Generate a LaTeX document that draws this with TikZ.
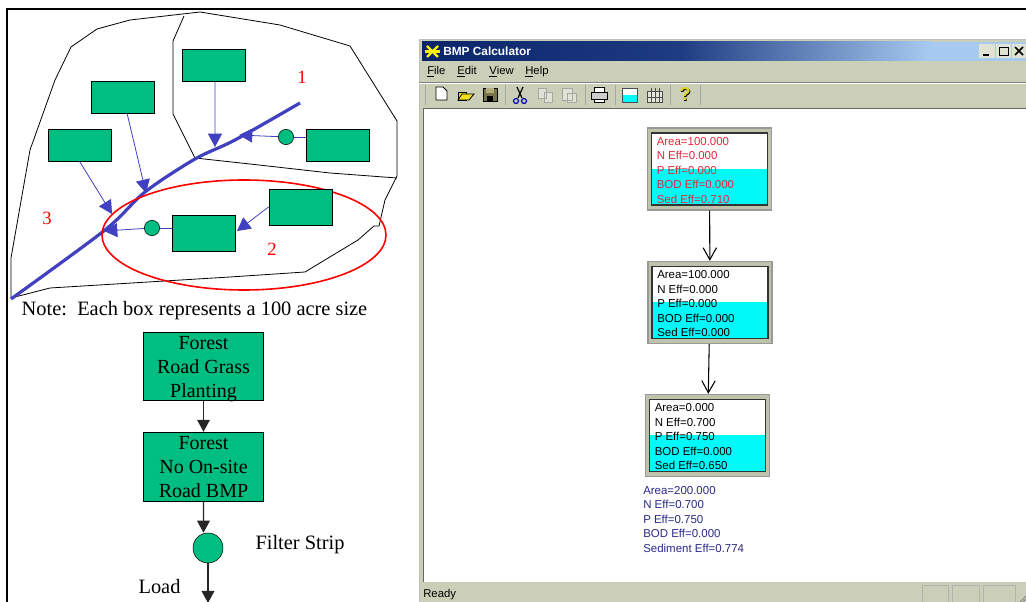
\documentclass[tikz,border=0pt]{standalone}
\usepackage{fontspec}
\setmainfont{Liberation Serif}
\newfontfamily\winfont{Liberation Sans}
\usetikzlibrary{arrows.meta,calc}
\definecolor{boxgreen}{RGB}{0,190,128}
\definecolor{riverblue}{RGB}{64,64,192}
\definecolor{wingray}{RGB}{203,207,183}
\definecolor{framegray}{RGB}{190,195,172}
\definecolor{navytext}{RGB}{42,42,135}
\definecolor{titledark}{RGB}{10,36,106}
\definecolor{titlemid}{RGB}{30,60,130}
\definecolor{titlelight}{RGB}{166,202,240}
\definecolor{purecyan}{RGB}{0,250,250}
\definecolor{boxred}{RGB}{228,36,60}
\tikzset{
  greenbox/.style={draw=black,fill=boxgreen,inner sep=0pt,minimum width=47.5pt,minimum height=24pt},
  tallbox/.style={greenbox,minimum height=27pt},
  flowbox/.style={draw=black,line width=0.8pt,fill=boxgreen,inner sep=0pt,align=center,minimum width=90.5pt,
    font=\fontsize{15}{18}\selectfont},
  greendot/.style={circle,draw=black,fill=boxgreen,inner sep=0pt,minimum size=11.5pt},
  inflow/.style={draw=riverblue,line width=0.6pt,-{Triangle[length=10pt,width=10.5pt]}},
  plainflow/.style={draw=riverblue,line width=0.6pt},
  blackflow/.style={draw=black!85,line width=1pt,-{Triangle[length=9pt,width=9.5pt]}},
  serifnote/.style={font=\fontsize{15.3}{18}\selectfont,inner sep=0pt},
  redmark/.style={text=red,font=\fontsize{14}{16}\selectfont,inner sep=0pt},
  bmpframe/.style={draw=gray!80,line width=1pt,fill=framegray,inner sep=0pt,minimum width=93pt,minimum height=61.5pt},
  bmptext/.style={font=\winfont\fontsize{8.6}{10.9}\selectfont,align=left,anchor=north west,inner sep=0pt},
  barbflow/.style={draw=black,line width=0.8pt,-{Straight Barb[length=9pt,width=10pt]}},
  menutext/.style={font=\winfont\fontsize{8.5}{10}\selectfont,anchor=west,inner sep=0pt},
}
\begin{document}
\begin{tikzpicture}[x=0.75pt,y=-0.75pt]
        \useasboundingbox (0,0) rectangle (1026,602);
        % draw the outer frame
        \draw[line width=1.5pt] (6.5,602) -- (6.5,9.5) -- (1026,9.5);

        % draw the watershed outline
        \draw[line width=0.6pt] (11,298) -- (11,258) -- (30,150) -- (55,80) -- (71,47) -- (97,29) -- (130,20)
            -- (200,12) -- (280,25) -- (350,46) -- (397,121) -- (397,176) -- (385,200) -- (379,226) -- (374,226)
            -- (358,240) -- (305,272) -- (230,277) -- (50,288) -- cycle;
        \draw[line width=0.6pt] (184,16) -- (173,41) -- (173,114) -- (195,158) -- (250,164) -- (330,173) -- (397,178);
        % draw the stream
        \draw[riverblue,line width=2.4pt] plot[smooth,tension=0.5] coordinates {(11,299) (105,230) (145,192) (195,159) (235,140) (300,103)};
        % draw the red ellipse
        \draw[red,line width=1.2pt] (244,235) ellipse [x radius=142,y radius=55];

        % draw boxes and ponds
        \node[greenbox] (boxa) at (214,65) {};
        \node[greenbox] (boxb) at (122.5,97) {};
        \node[greenbox] (boxc) at (79.5,145) {};
        \node[greenbox] (boxd) at (337.5,145) {};
        \node[tallbox] (boxe) at (300.5,207) {};
        \node[tallbox] (boxf) at (204,233.5) {};
        \node[greendot] (dotd) at (286,137) {};
        \node[greendot] (dotf) at (152,228) {};
        \coordinate (ina) at (215,147);
        \coordinate (inb) at (146,193);
        \coordinate (inc) at (112,214);
        \coordinate (ind) at (239,135);
        \coordinate (ine) at (237,231);
        \coordinate (inf) at (104,231);
        \draw[inflow] ([xshift=0.7pt]boxa.south) -- (ina);
        \draw[inflow] ([xshift=3.4pt]boxb.south) -- (inb);
        \draw[inflow] (boxc.south) -- (inc);
        \draw[plainflow] (boxd.west |- dotd) -- (dotd);
        \draw[inflow] (dotd) -- (ind);
        \draw[inflow] (boxe.west) -- (ine);
        \draw[plainflow] (boxf.west |- dotf) -- (dotf);
        \draw[inflow] (dotf) -- (inf);
        % draw numbers
        \node[redmark] (numone) at (302,77) {1};
        \node[redmark] (numtwo) at (272,249) {2};
        \node[redmark] (numthree) at (47,218) {3};
        \node[serifnote] (note) at (194.5,311) {Note:\ \ Each box represents a 100 acre size};

        % draw the flow chart
        \node[flowbox,minimum height=51.5pt,text depth=0pt] (grass) at (203.5,366.5) {Forest\\Road Grass\\Planting};
        \node[flowbox,minimum height=52pt,text depth=0pt] (noroad) at (203.5,467) {Forest\\No On-site\\Road BMP};
        \node[greendot,minimum size=22.5pt] (strip) at (208,548) {};
        \coordinate (loadend) at (208,603);
        \draw[blackflow] (grass) -- (noroad);
        \draw[blackflow] (noroad.south) -- ([xshift=-3.4pt]strip.north);
        \draw[blackflow] (strip) -- (loadend);
        \node[serifnote] (filter) at (300,544.5) {Filter Strip};
        \node[serifnote] (load) at (159.5,587) {Load};

        % draw the window
        \fill[wingray] (419,39) rectangle (1026,602);
        \draw[gray!50,line width=0.5pt] (419,602) -- (419,39) -- (1026,39);
        \shade[left color=titledark,right color=titlemid] (422,42) rectangle (680,61);
        \shade[left color=titlemid,right color=titlelight] (680,42) rectangle (930,61);
        \fill[titlelight] (930,42) rectangle (1026,61);
        \node[menutext,text=white,font=\winfont\bfseries\fontsize{8.9}{10}\selectfont] (title) at (443,51.5) {BMP Calculator};
        \draw[yellow,line width=1.6pt] (427,46) -- (438,57) (438,46) -- (427,57);
        \draw[yellow,line width=1.6pt] (425,51.5) -- (440,51.5);
        % window buttons
        \foreach \x/\w in {979/16,996/15,1012/14}
        \fill[wingray!60!white] (\x,44) rectangle (\x+\w,58);
        \draw[line width=1pt] (983,55) -- (989,55);
        \draw[line width=0.7pt] (999,47) rectangle (1008,55);
        \draw[line width=1.1pt] (1015,47) -- (1023,55) (1023,47) -- (1015,55);
        % menu
        \node[menutext] (menufile) at (427,72) {\underline{F}ile};
        \node[menutext] (menuedit) at (457,72) {\underline{E}dit};
        \node[menutext] (menuview) at (489,72) {\underline{V}iew};
        \node[menutext] (menuhelp) at (525,72) {\underline{H}elp};
        \draw[white,line width=0.6pt] (419,83) -- (1026,83);
        \draw[gray,line width=0.6pt] (419,82) -- (1026,82);
        % toolbar separators
        \foreach \x in {425,505,585,615,670,700}
        \draw[gray!70,line width=0.7pt] (\x,85) -- (\x,105);
        % toolbar icons
        \draw[fill=white,line width=0.7pt] (436,87) -- (443,87) -- (447,91) -- (447,100) -- (436,100) -- cycle;
        \draw[fill=yellow!70!brown,line width=0.7pt] (458,92) -- (466,92) -- (466,100) -- (458,100) -- cycle;
        \draw[fill=yellow!80!brown,line width=0.6pt] (458,100) -- (462,94) -- (474,94) -- (469,100) -- cycle;
        \draw[fill=black!60!yellow,line width=0.7pt] (483,88) rectangle (497,101);
        \fill[yellow!30!gray] (486,88) rectangle (494,93);
        \fill[black] (487,96) rectangle (493,101);
        \draw[blue!70!black,line width=0.9pt] (516,101) circle [radius=2.5] (524,101) circle [radius=2.5];
        \draw[black,line width=0.9pt] (517,87) -- (522,98) (523,87) -- (518,98);
        \draw[gray!70,fill=wingray!60!white,line width=0.7pt] (538,88) rectangle (546,98) (544,92) rectangle (552,102);
        \draw[gray!70,fill=wingray!60!white,line width=0.7pt] (562,88) rectangle (572,100) (567,93) rectangle (576,102);
        \draw[black,fill=gray!40,line width=0.7pt] (591,92) rectangle (607,99);
        \draw[black,fill=white,line width=0.6pt] (594,87) rectangle (604,92) (594,99) rectangle (604,102);
        \draw[black!70,fill=white,line width=0.7pt] (622,88) rectangle (637,102);
        \fill[purecyan] (623,95) rectangle (637,102);
        \draw[black!70,fill=wingray!50!white,line width=0.6pt] (647,91) rectangle (662,102);
        \foreach \x in {651,655,659}
        \draw[black!70,line width=0.5pt] (\x,88) -- (\x,102);
        \draw[black!70,line width=0.5pt] (647,97) -- (662,97);
        \node[menutext,font=\winfont\bfseries\fontsize{14}{14}\selectfont,text=black,anchor=center] (helpshadow) at (685.7,94.7) {?};
        \node[menutext,font=\winfont\bfseries\fontsize{14}{14}\selectfont,text=yellow!85!black,anchor=center] (helpmark) at (685,94) {?};
        % client area
        \fill[white] (423,108) rectangle (1026,582);
        \draw[black!60,line width=0.7pt] (423,582) -- (423,108) -- (1026,108);

        % draw the calculator boxes
        \foreach \name/\cx/\cy/\tcol/\vals in {
            boxone/709.5/169/boxred/{Area=100.000\\N Eff=0.000\\P Eff=0.000\\BOD Eff=0.000\\Sed Eff=0.710},
            boxtwo/710/302.5/black/{Area=100.000\\N Eff=0.000\\P Eff=0.000\\BOD Eff=0.000\\Sed Eff=0.000},
            boxthree/707.5/435.5/black/{Area=0.000\\N Eff=0.700\\P Eff=0.750\\BOD Eff=0.000\\Sed Eff=0.650}}{
            \node[bmpframe] (\name) at (\cx,\cy) {};
            \fill[white] (\cx-58,\cy-36) rectangle (\cx+58,\cy);
            \fill[purecyan] (\cx-58,\cy) rectangle (\cx+58,\cy+36);
            \draw[black!80,line width=0.9pt] (\cx-58,\cy-36) rectangle (\cx+58,\cy+36);
            \node[bmptext,text=\tcol] (\name text) at (\cx-53,\cy-32) {\vals};
        }
        \draw[barbflow] (boxone) -- (boxtwo);
        \draw[barbflow] (boxtwo) -- (boxthree);
        \node[bmptext,text=navytext] (summary) at (643,486) {Area=200.000\\N Eff=0.700\\P Eff=0.750\\BOD Eff=0.000\\Sediment Eff=0.774};

        % draw the status bar
        \node[menutext] (ready) at (423,594.5) {Ready};
        \foreach \x/\w in {922/26,952/27,983/32}
        \draw[gray!60,line width=0.6pt] (\x,602) -- (\x,585) -- (\x+\w,585) -- (\x+\w,602);
        \draw[gray,line width=0.6pt] (1020,602) -- (1026,596) (1023,602) -- (1026,599);

    \end{tikzpicture}
\end{document}
